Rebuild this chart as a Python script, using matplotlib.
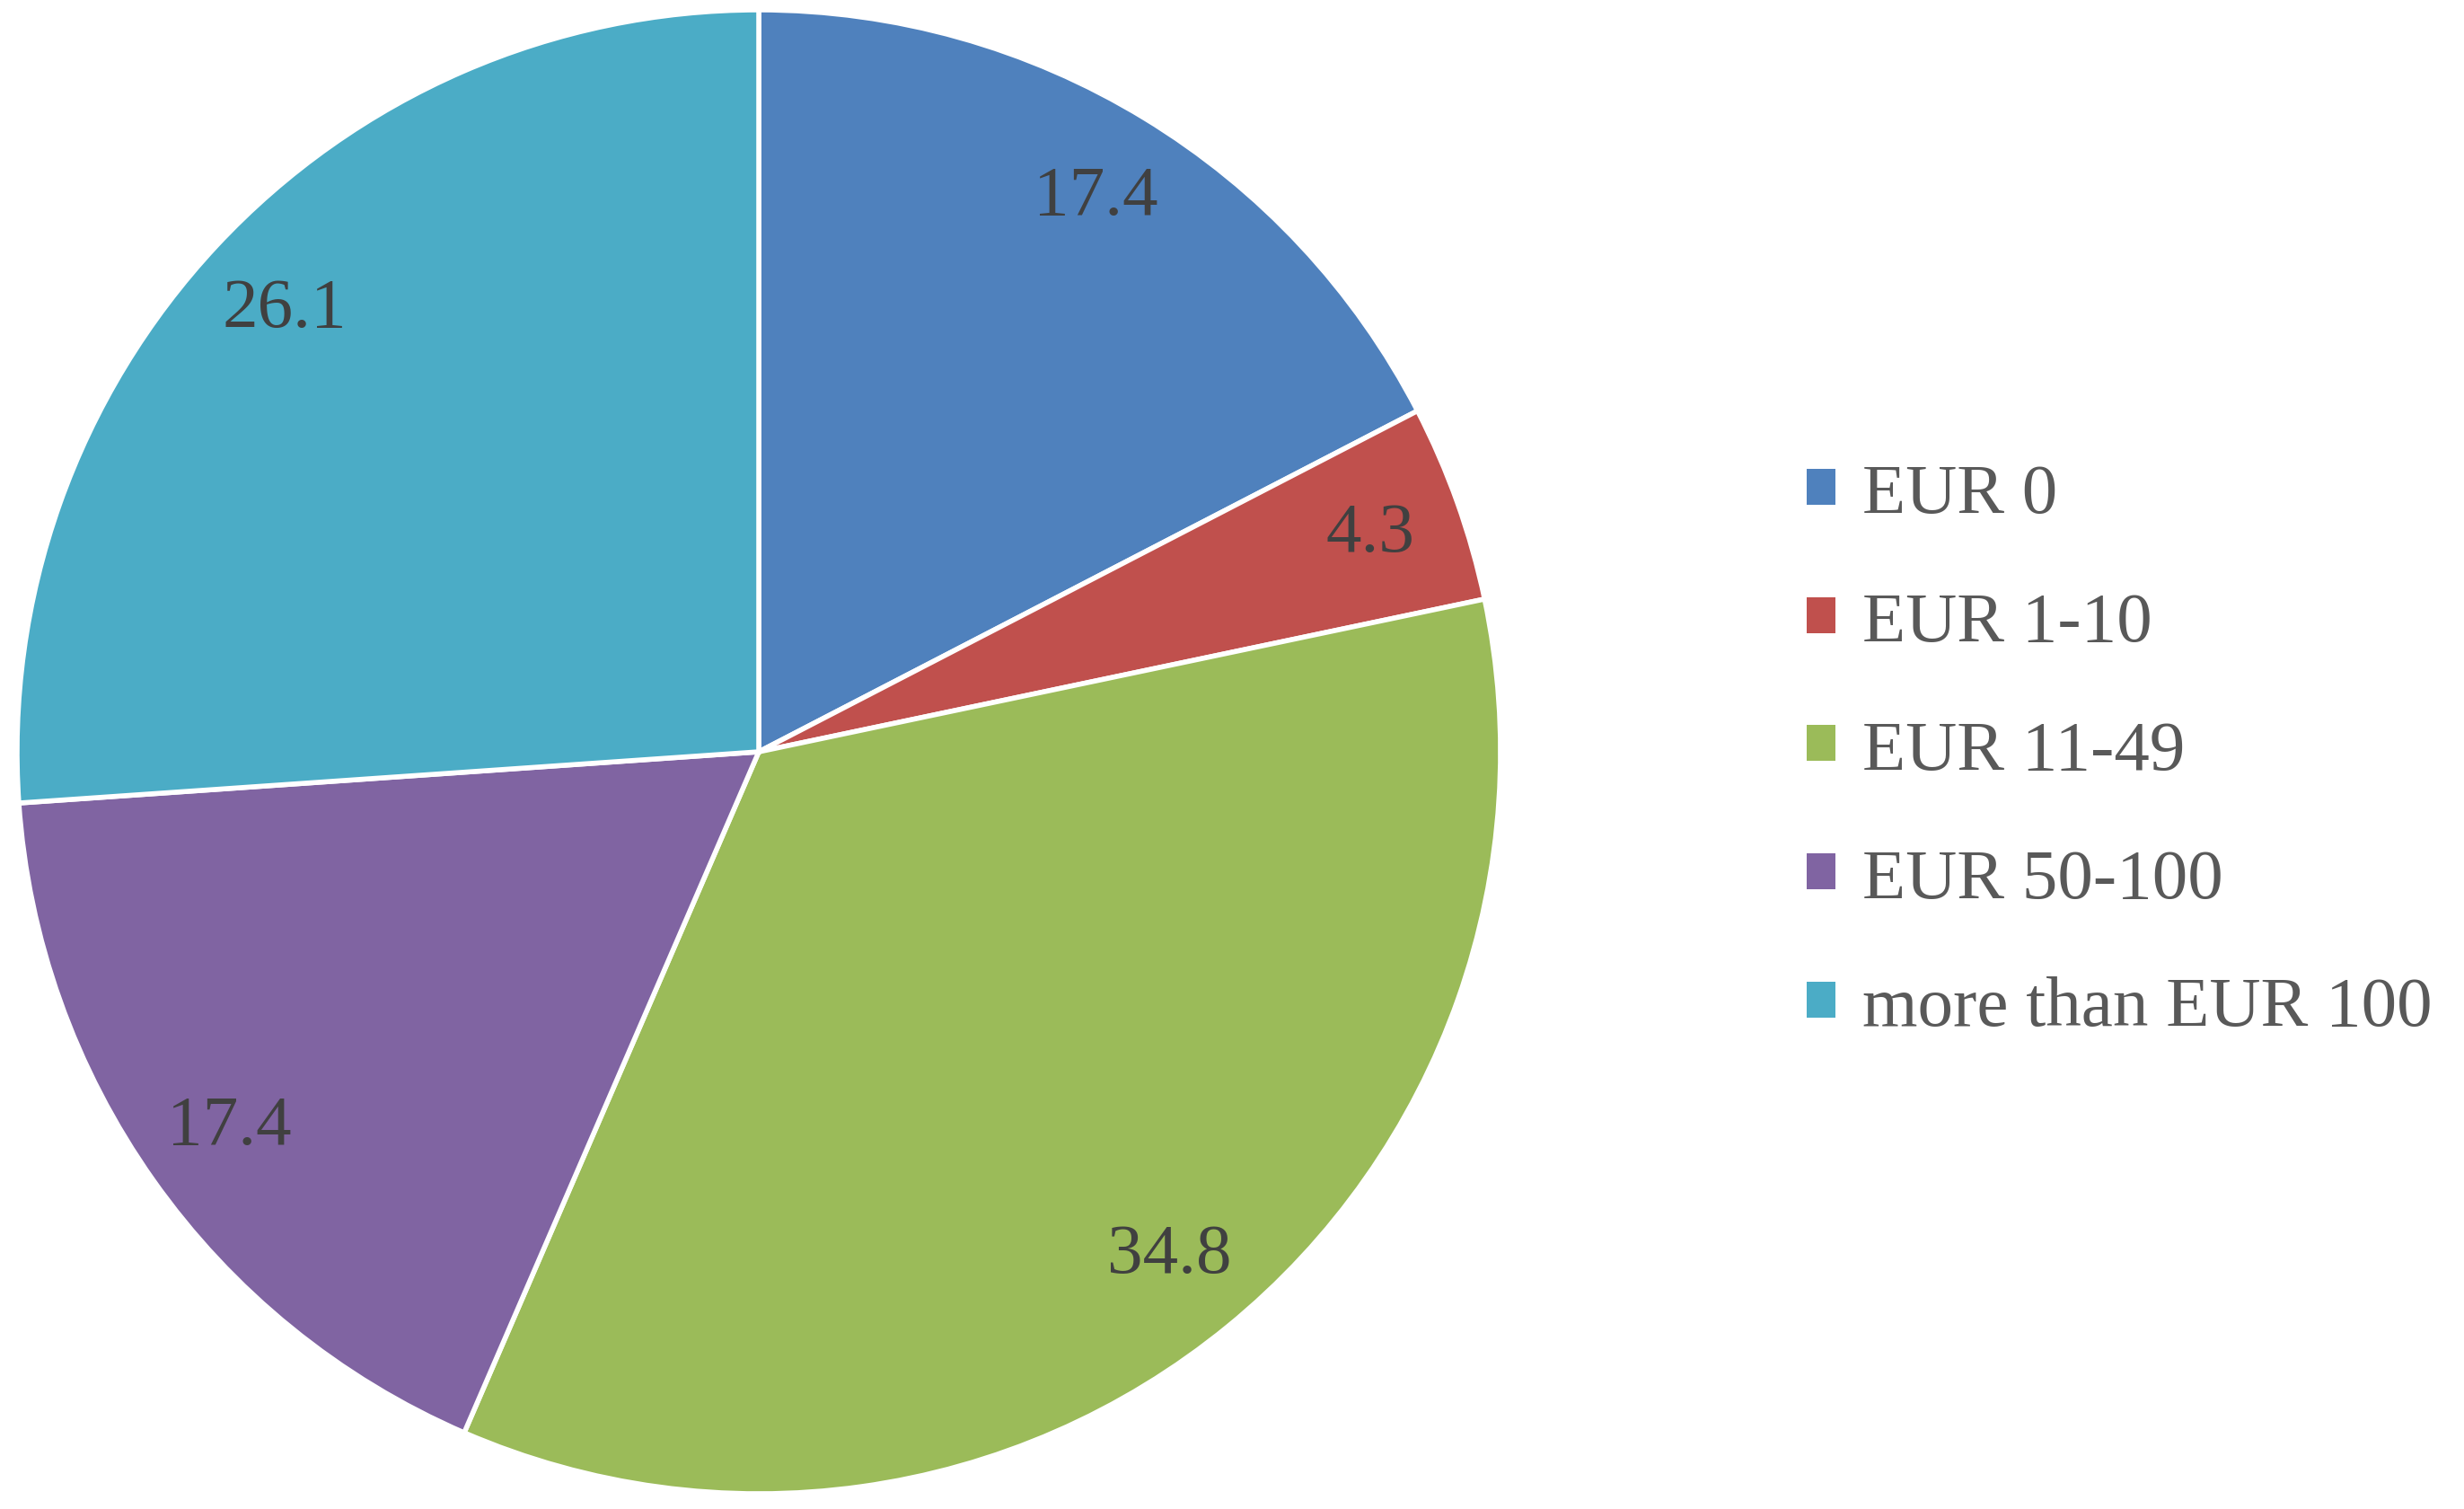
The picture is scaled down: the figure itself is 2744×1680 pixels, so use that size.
import matplotlib
matplotlib.use("Agg")
import matplotlib.pyplot as plt
from matplotlib.patches import Patch

categories = ["EUR 0", "EUR 1-10", "EUR 11-49", "EUR 50-100", "more than EUR 100"]
values = [17.4, 4.3, 34.8, 17.4, 26.1]
colors = ["#4F81BD", "#C0504D", "#9BBB59", "#8064A2", "#4BACC6"]

plt.rcParams['font.family'] = ['Liberation Serif', 'DejaVu Serif']

W, H = 2744, 1681
fig = plt.figure(figsize=(W / 100, H / 100), dpi=100)
cx, cy, r = 845, 838, 826
ax = fig.add_axes([(cx - r) / W, (H - cy - r) / H, 2 * r / W, 2 * r / H])

wedges, texts = ax.pie(
    values, colors=colors, startangle=90, counterclock=False,
    labels=[f"{v:.1f}" for v in values], labeldistance=0.875,
    wedgeprops=dict(edgecolor="white", linewidth=4),
    textprops=dict(color="#404040", fontsize=57, ha="center", va="center"),
)
for t in texts:
    t.set_ha("center")
    t.set_va("center")
ax.set_xlim(-1, 1)
ax.set_ylim(-1, 1)
ax.set_aspect("equal")
ax.axis("off")

handles = [Patch(facecolor=c, edgecolor="none") for c in colors]
fig.legend(handles, categories, loc="center left",
           bbox_to_anchor=(2012 / W, (H - 838) / H),
           frameon=False, fontsize=57, labelcolor="#595959",
           handlelength=0.4, handleheight=0.4, handletextpad=0.38,
           labelspacing=0.9, borderpad=0, borderaxespad=0)

fig.savefig("out.png", dpi=100, facecolor="white")
